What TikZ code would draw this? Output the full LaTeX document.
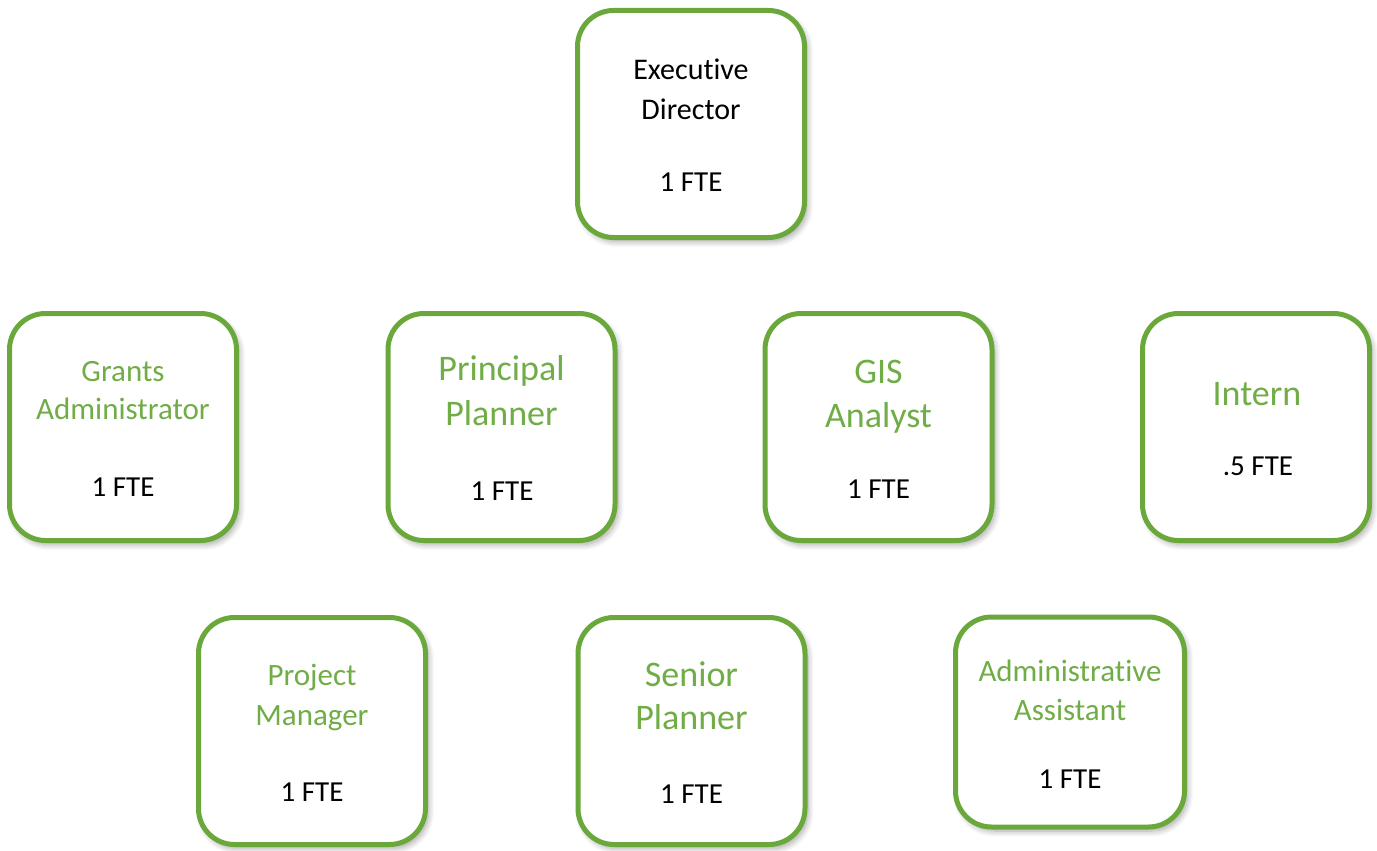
\documentclass[tikz,border=0pt]{standalone}
\usepackage{fontspec}
\setmainfont{Carlito}[Ligatures={NoCommon,NoRare,NoContextual}]
\usetikzlibrary{shadows.blur}
\definecolor{boxgreen}{RGB}{106,168,60}
\definecolor{txtgreen}{RGB}{112,173,71}
\tikzset{
  orgbox/.style={draw=boxgreen, line width=5pt, fill=white, rounded corners=36pt,
    minimum width=227pt, minimum height=227pt, inner sep=0pt,
    blur shadow={shadow xshift=3pt, shadow yshift=-4pt, shadow blur steps=8, shadow blur radius=6pt, shadow opacity=35}},
  bigtitle/.style={anchor=base, text=txtgreen, font=\fontsize{36}{44}\selectfont, inner sep=0pt},
  smalltitle/.style={anchor=base, text=txtgreen, font=\fontsize{31}{39}\selectfont, inner sep=0pt},
  blacktitle/.style={anchor=base, text=black, font=\fontsize{30}{39}\selectfont, inner sep=0pt},
  fte/.style={anchor=base, text=black, font=\fontsize{29}{35}\selectfont, inner sep=0pt}
}
\begin{document}
\begin{tikzpicture}[x=1pt,y=-1pt]
\useasboundingbox (0,0) rectangle (1377,851);
% boxes
\node[orgbox] (exec) at (691,124) {};
\node[orgbox] (grants) at (123,427) {};
\node[orgbox] (principal) at (501.5,427) {};
\node[orgbox] (gis) at (878.5,427) {};
\node[orgbox] (intern) at (1256,427) {};
\node[orgbox] (project) at (312,731) {};
\node[orgbox] (senior) at (691.5,731) {};
\node[orgbox, minimum height=210pt, minimum width=229pt] (admin) at (1070,722) {};
% Executive Director
\node[blacktitle] (exec1) at (691,80) {Executive};
\node[blacktitle] (exec2) at (691,119) {Director};
\node[fte] (execf) at (691,191) {1 FTE};
% Grants Administrator
\node[smalltitle] (grants1) at (123,381) {Grants};
\node[smalltitle] (grants2) at (123,419) {Administrator};
\node[fte] (grantsf) at (123,496) {1 FTE};
% Principal Planner
\node[bigtitle] (principal1) at (501.5,380) {Principal};
\node[bigtitle] (principal2) at (501.5,425) {Planner};
\node[fte] (principalf) at (502,500) {1 FTE};
% GIS Analyst
\node[bigtitle] (gis1) at (878.5,383) {GIS};
\node[bigtitle] (gis2) at (878.5,427) {Analyst};
\node[fte] (gisf) at (878.5,498) {1 FTE};
% Intern
\node[bigtitle] (intern1) at (1257,405) {Intern};
\node[fte] (internf) at (1258,475) {.5 FTE};
% Project Manager
\node[smalltitle] (project1) at (312,685) {Project};
\node[smalltitle] (project2) at (312,725) {Manager};
\node[fte] (projectf) at (312,801) {1 FTE};
% Senior Planner
\node[bigtitle] (senior1) at (691.5,686) {Senior};
\node[bigtitle] (senior2) at (691.5,729) {Planner};
\node[fte] (seniorf) at (691.5,803) {1 FTE};
% Administrative Assistant
\node[smalltitle] (admin1) at (1070,681) {Administrative};
\node[smalltitle] (admin2) at (1070,720) {Assistant};
\node[fte] (adminf) at (1070,788) {1 FTE};
\end{tikzpicture}
\end{document}
